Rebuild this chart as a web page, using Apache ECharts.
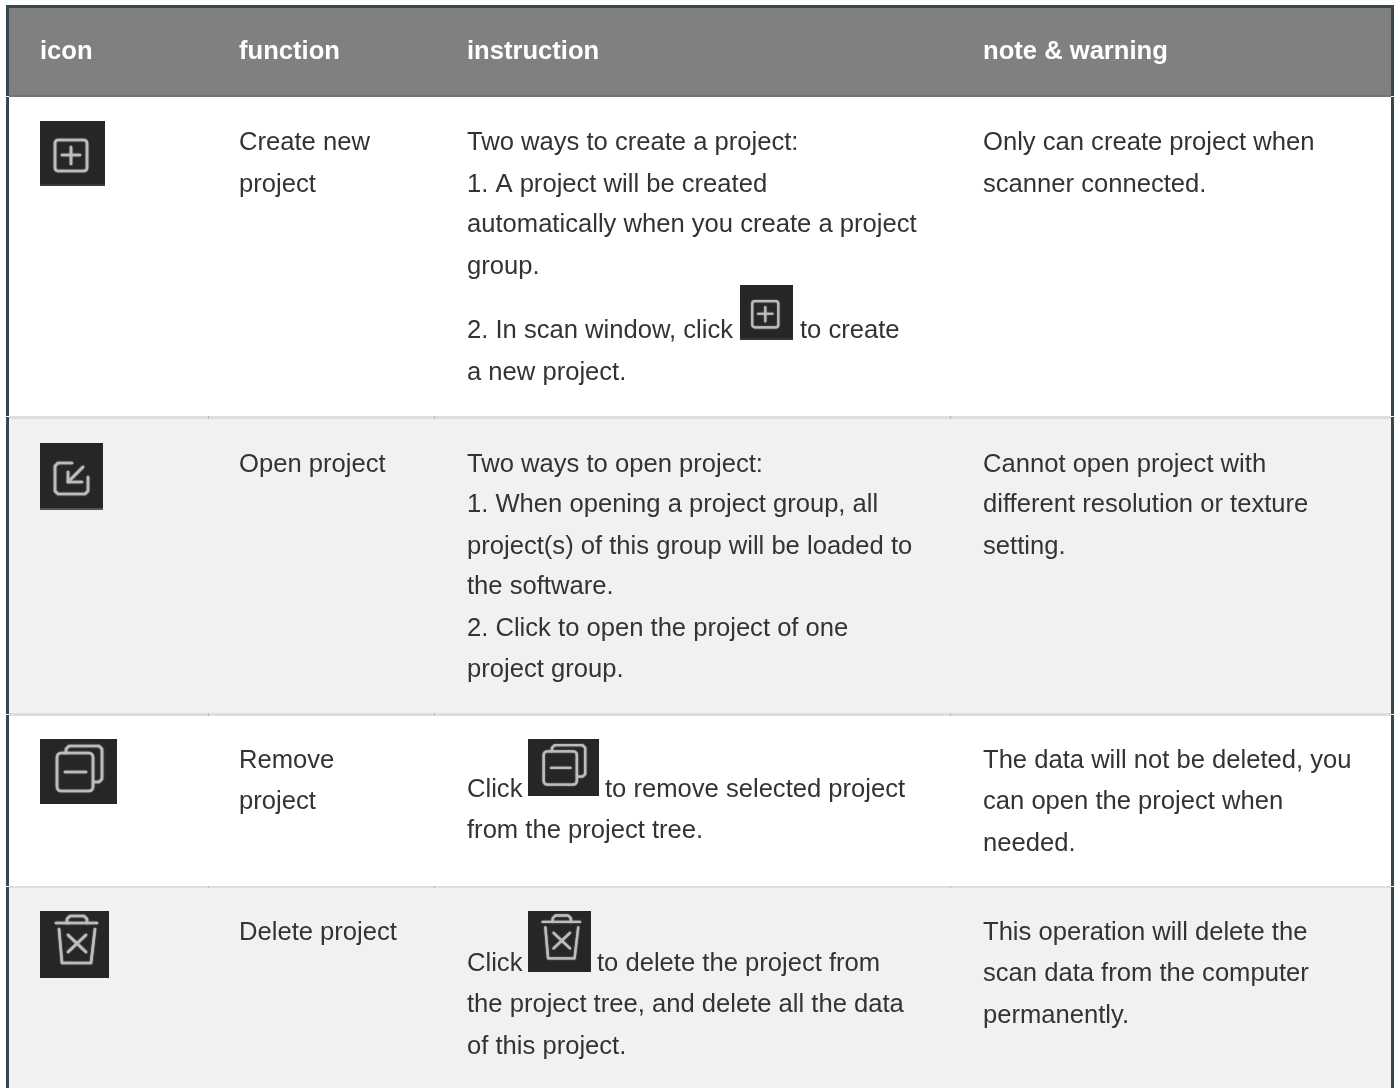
<!DOCTYPE html>
<html lang="en">
<head>
<meta charset="UTF-8">
<title>project functions</title>
<style>
  html, body { margin: 0; padding: 0; background: #fff; }
  #main { width: 1398px; height: 1088px; }
</style>
</head>
<body>
<div id="main"></div>
<script src="https://cdn.jsdelivr.net/npm/echarts@6/dist/echarts.min.js"></script>
<script>
// table text
var headers = ['icon', 'function', 'instruction', 'note & warning'];
var functions = [['Create new', 'project'], ['Open project'], ['Remove', 'project'], ['Delete project']];
var instructions = [
    ['Two ways to create a project:', '1. A project will be created', 'automatically when you create a project', 'group.', '2. In scan window, click', 'a new project.'],
    ['Two ways to open project:', '1. When opening a project group, all', 'project(s) of this group will be loaded to', 'the software.', '2. Click to open the project of one', 'project group.'],
    ['Click', 'from the project tree.'],
    ['Click', 'the project tree, and delete all the data', 'of this project.']
];
var notes = [
    ['Only can create project when', 'scanner connected.'],
    ['Cannot open project with', 'different resolution or texture', 'setting.'],
    ['The data will not be deleted, you', 'can open the project when', 'needed.'],
    ['This operation will delete the', 'scan data from the computer', 'permanently.']
];
var inlineTexts = [
    { text: 'to create', x: 800, y: 329 },
    { text: 'to remove selected project', x: 605, y: 788 },
    { text: 'to delete the project from', x: 597, y: 962 }
];

// layout
var colX = [40, 239, 467, 983];
var funcY = [[141, 183], [463], [759, 800], [931]];
var instY = [[141, 183, 223, 265, 329, 371], [463, 503, 545, 585, 627, 668], [788, 829], [962, 1003, 1045]];
var noteY = [[141, 183], [463, 503, 545], [759, 800, 842], [931, 972, 1014]];
var rowBands = [[97, 319, '#ffffff'], [416, 298, '#f1f1f1'], [714, 172, '#ffffff'], [886, 202, '#f1f1f1']];
var rowLines = [[416, 3], [713, 3], [886, 2]];
var cellTicks = [208, 434, 950];
var frameNotches = [96, 416, 714, 886];

var FONT = '"Liberation Sans", Arial, sans-serif';
var FONT_SIZE = 25.6;
var TEXT_DY = 2;
var ICON_BG = '#262626', ICON_FG = '#bdbdbd', ICON_LW = 2.6;
var g = [];

function label(t, x, y, color, weight) {
    g.push({ type: 'text', x: x, y: y + TEXT_DY, silent: true, style: {
        text: t, fill: color || '#333333', font: (weight || 'normal') + ' ' + FONT_SIZE + 'px ' + FONT,
        textAlign: 'left', textVerticalAlign: 'middle'
    }});
}
function box(x, y, w, h, fill) {
    g.push({ type: 'rect', silent: true, shape: { x: x, y: y, width: w, height: h }, style: { fill: fill } });
}

// icon parts, in the coordinates of the big icon in the first column
function iFill(x, y, w, h, fill) {
    return { type: 'rect', silent: true, shape: { x: x, y: y, width: w, height: h }, style: { fill: fill } };
}
function iRect(x, y, w, h, r) {
    return { type: 'rect', silent: true, shape: { x: x, y: y, width: w, height: h, r: r },
        style: { fill: null, stroke: ICON_FG, lineWidth: ICON_LW, shadowBlur: 1.5, shadowColor: ICON_FG } };
}
function iLine(points) {
    return { type: 'polyline', silent: true, shape: { points: points },
        style: { fill: null, stroke: ICON_FG, lineWidth: ICON_LW, lineCap: 'round', lineJoin: 'round', shadowBlur: 1.5, shadowColor: ICON_FG } };
}
function icon(parts, x, y, w, h, baseW, baseH, edge) {
    var children = [iFill(0, 0, baseW, baseH, ICON_BG)];
    if (edge) children.push(iFill(0, baseH - 2, baseW, 2, edge));
    g.push({ type: 'group', x: x, y: y, scaleX: w / baseW, scaleY: h / baseH, silent: true, children: children.concat(parts()) });
}

function plusParts() {
    return [iRect(15, 19, 32, 31, 3), iLine([[22, 34], [40, 34]]), iLine([[31, 26], [31, 43]])];
}
function openParts() {
    return [
        iLine([[32, 20], [18, 20], [15, 23], [15, 48], [18, 51], [45, 51], [48, 48], [48, 34]]),
        iLine([[43, 24], [28, 39]]),
        iLine([[28, 29], [28, 39], [42, 39]])
    ];
}
function removeParts() {
    return [
        iLine([[26, 14], [26, 10], [29, 7], [59, 7], [62, 10], [62, 40], [59, 43], [54, 43]]),
        iRect(17, 14, 36, 38, 4),
        iLine([[25, 33], [46, 33]])
    ];
}
function deleteParts() {
    return [
        iLine([[16, 12], [57, 12]]),
        iLine([[27, 12], [27, 8], [30, 5], [44, 5], [47, 8], [47, 12]]),
        iLine([[19, 18], [22, 52], [51, 52], [55, 18]]),
        iLine([[28, 24], [46, 41]]),
        iLine([[46, 24], [28, 41]])
    ];
}

// backgrounds
box(0, 0, 1398, 1088, '#ffffff');
rowBands.forEach(function (b) { box(9, b[0], 1382, b[1], b[2]); });
box(9, 8, 1382, 88, '#808080');
box(9, 95, 1382, 2, '#737373');
rowLines.forEach(function (l) {
    box(9, l[0], 1382, l[1], '#dedede');
    cellTicks.forEach(function (x) { box(x, l[0], 1, l[1], '#b8b8b8'); });
});
// outer frame
box(6, 5, 1388, 3, '#37474f');
box(6, 5, 3, 1083, '#37474f');
box(1391, 5, 3, 1083, '#37474f');
frameNotches.forEach(function (y) {
    box(6, y, 3, 1, '#ffffff');
    box(1391, y, 3, 1, '#ffffff');
});

// header
headers.forEach(function (h, i) { label(h, colX[i], 50, '#ffffff', 'bold'); });

// cells
for (var r = 0; r < 4; r++) {
    functions[r].forEach(function (t, i) { label(t, colX[1], funcY[r][i]); });
    instructions[r].forEach(function (t, i) { label(t, colX[2], instY[r][i]); });
    notes[r].forEach(function (t, i) { label(t, colX[3], noteY[r][i]); });
}
inlineTexts.forEach(function (t) { label(t.text, t.x, t.y); });

// icons
icon(plusParts, 40, 121, 65, 65, 65, 65, '#3a3a3a');
icon(openParts, 40, 443, 63, 67, 63, 67, '#555555');
icon(removeParts, 40, 739, 77, 65, 77, 65);
icon(deleteParts, 40, 911, 69, 67, 69, 67);
icon(plusParts, 740, 285, 53, 55, 65, 65, '#3a3a3a');
icon(removeParts, 528, 739, 71, 57, 77, 65);
icon(deleteParts, 528, 911, 63, 61, 69, 67);

var myChart = echarts.init(document.getElementById('main'), null, { renderer: 'canvas' });
myChart.setOption({ animation: false, graphic: { elements: g } });
</script>
</body>
</html>
